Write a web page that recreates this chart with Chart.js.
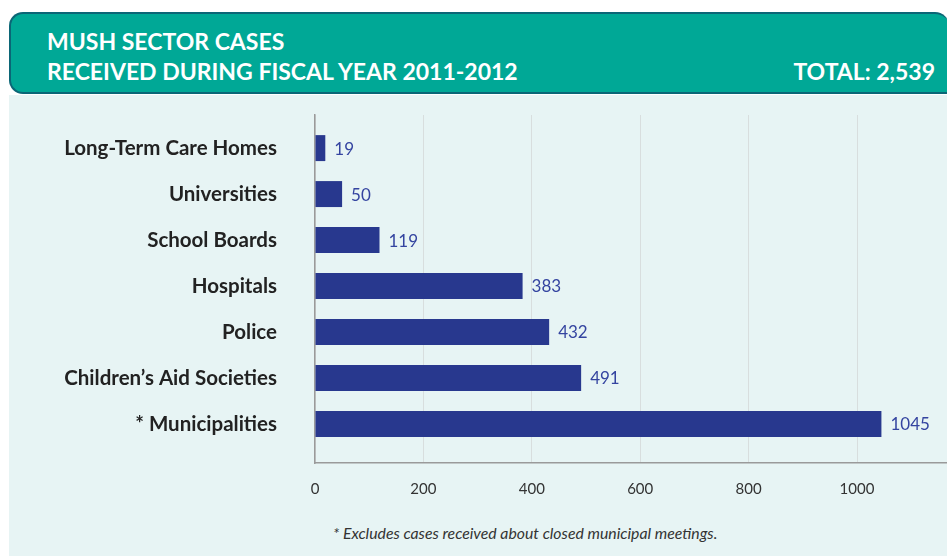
<!DOCTYPE html>
<html>
<head>
<meta charset="utf-8">
<script src="https://cdn.jsdelivr.net/npm/chart.js@4"></script>
<style>
  body { margin: 0; background: #ffffff; width: 947px; height: 556px; overflow: hidden; position: relative; font-family: Lato, sans-serif; }
  .header {
    position: absolute; left: 9px; top: 12px; width: 938px; height: 78px;
    background: #00a896; border: 2px solid #0b6676; border-right: none;
    border-radius: 14px 14px 0 14px; color: #ffffff; box-sizing: content-box;
  }
  .header .title { position: absolute; left: 36px; top: 12px; font-size: 23px; font-weight: bold; line-height: 30px; }
  .header .total { position: absolute; right: 14px; top: 42px; font-size: 23px; font-weight: bold; line-height: 30px; }
  .panel { position: absolute; left: 9px; top: 95px; width: 938px; height: 461px; background: #e7f4f4; }
  .chart-box { position: absolute; left: 9px; top: 95px; width: 938px; height: 420px; }
  .note { position: absolute; left: 333px; top: 523px; font-size: 15.8px; font-style: italic; color: #333333; }
</style>
</head>
<body>
<div class="header">
  <div class="title">MUSH SECTOR CASES<br>RECEIVED DURING FISCAL YEAR 2011-2012</div>
  <div class="total">TOTAL: 2,539</div>
</div>
<div class="panel"></div>
<div class="chart-box"><canvas id="mushChart"></canvas></div>
<div class="note">* Excludes cases received about closed municipal meetings.</div>
<script>
const sectors = ['Long-Term Care Homes', 'Universities', 'School Boards', 'Hospitals', 'Police', 'Children\u2019s Aid Societies', '* Municipalities'];
const cases = [19, 50, 119, 383, 432, 491, 1045];
const xTicks = [0, 200, 400, 600, 800, 1000];

// draws the number at the end of each bar
const valueLabels = {
    id: 'valueLabels',
    afterDatasetsDraw(chart) {
        const ctx = chart.ctx;
        const meta = chart.getDatasetMeta(0);
        ctx.save();
        ctx.fillStyle = '#3444a0';
        ctx.font = '17px Lato';
        ctx.textBaseline = 'middle';
        meta.data.forEach((bar, i) => {
            ctx.fillText(cases[i], bar.x + 9, bar.y + 1);
        });
        ctx.restore();
    }
};

const ctx = document.getElementById('mushChart').getContext('2d');
new Chart(ctx, {
    type: 'bar',
    data: {
        datasets: [{
            data: cases.map((v, i) => ({ x: v, y: i })),
            backgroundColor: '#28388e',
            borderWidth: 0,
            categoryPercentage: 1,
            barPercentage: 0.565
        }]
    },
    options: {
        indexAxis: 'y',
        responsive: true,
        maintainAspectRatio: false,
        animation: false,
        layout: { padding: { top: 20, right: 0, left: 0, bottom: 0 } },
        scales: {
            x: {
                min: 0,
                max: 1166,
                afterBuildTicks: axis => {
                    axis.ticks = xTicks.map(v => ({ value: v }));
                },
                grid: { color: '#d8dede', lineWidth: 1, drawTicks: false },
                border: { color: '#9a9a9a', width: 1.5 },
                ticks: { color: '#333333', font: { family: 'Lato', size: 15 }, padding: 17, callback: v => String(v) }
            },
            y: {
                type: 'linear',
                reverse: true,
                offset: false,
                min: -0.72,
                max: 6.85,
                afterBuildTicks: axis => {
                    axis.ticks = sectors.map((s, i) => ({ value: i }));
                },
                afterFit: axis => {
                    axis.width = 306;
                    axis.paddingTop = 0;
                    axis.paddingBottom = 0;
                },
                grid: { display: false, offset: false },
                border: { color: '#9a9a9a', width: 1.5 },
                ticks: {
                    color: '#222222',
                    font: { family: 'Lato', size: 20.5, weight: 'bold' },
                    padding: 30,
                    callback: v => sectors[v]
                }
            }
        },
        plugins: {
            legend: { display: false },
            tooltip: { enabled: false }
        }
    },
    plugins: [valueLabels]
});
</script>
</body>
</html>
